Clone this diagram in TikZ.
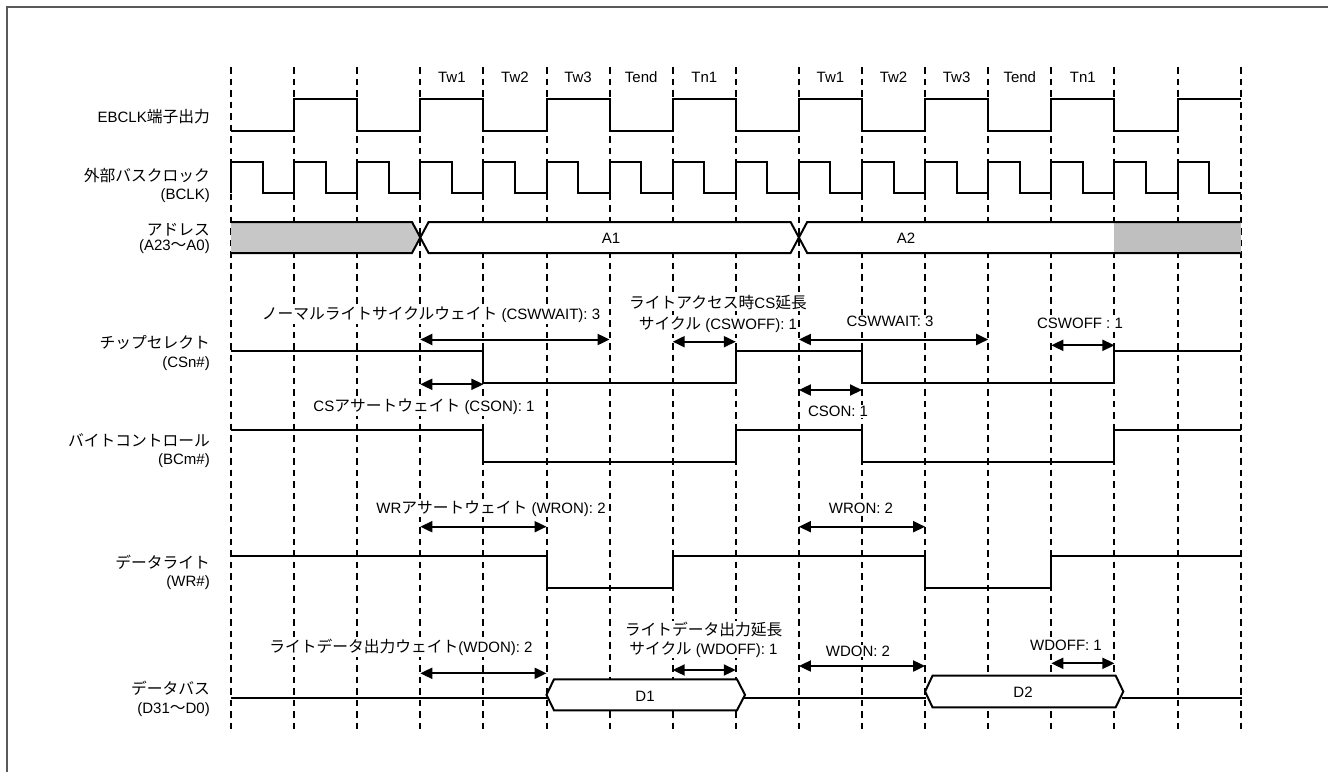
\documentclass[tikz,border=0pt]{standalone}
\usepackage{fontspec}
\setmainfont{Liberation Sans}
\newfontfamily\jp[Scale=1.05]{Noto Sans CJK JP}
\newcommand\J[1]{{\jp #1}}
\usetikzlibrary{arrows.meta}
\newcommand\darr[4]{\coordinate (#1a) at (#3,#2); \coordinate (#1b) at (#4,#2); \draw[dimarr] (#1a) -- (#1b);}
\begin{document}
\begin{tikzpicture}[x=1pt,y=-1pt,font=\fontsize{15}{17}\selectfont,
  gridln/.style={line width=2pt, dash pattern=on 6.5pt off 5pt},
  sig/.style={line width=2pt, line join=miter},
  dimarr/.style={line width=2pt, {Triangle[length=12pt,width=11pt]}-{Triangle[length=12pt,width=11pt]}},
  lbl/.style={fill=white, inner sep=1pt},
  sname/.style={anchor=east, inner sep=0pt},
  per/.style={inner sep=1pt},
  frame/.style={draw=black!65, line width=2pt}]
\useasboundingbox (0,0) rectangle (1330,772);
% frame
\draw[frame] (7,772) -- (7,7) -- (1328,7);
% grid
\foreach \k in {0,...,16} \draw[gridln] ({231+63.1*\k},67) -- ({231+63.1*\k},729);
% period labels
\foreach \k/\t [count=\i] in {3/Tw1,4/Tw2,5/Tw3,6/Tend,7/Tn1,9/Tw1,10/Tw2,11/Tw3,12/Tend,13/Tn1}
  \node[per] (p\i) at ({231+63.1*(\k+0.5)},77) {\t};
% signal names
\node[sname] (n1) at (210,117) {EBCLK\J{端子出力}};
\node[sname] (n2) at (210,175.7) {\J{外部バスクロック}};
\node[sname] (n2b) at (210,196) {(BCLK)};
\node[sname] (n3) at (210,230) {\J{アドレス}};
\node[sname] (n3b) at (210,247) {(A23\J{～}A0)};
\node[sname] (n4) at (210,342.7) {\J{チップセレクト}};
\node[sname] (n4b) at (210,364) {(CSn\#)};
\node[sname] (n5) at (210,440) {\J{バイトコントロール}};
\node[sname] (n5b) at (210,460.7) {(BCm\#)};
\node[sname] (n6) at (210,562.7) {\J{データライト}};
\node[sname] (n6b) at (210,582.7) {(WR\#)};
\node[sname] (n7) at (210,688) {\J{データバス}};
\node[sname] (n7b) at (210,710) {(D31\J{～}D0)};
% EBCLK
\draw[sig] (231,131) \foreach \k in {1,3,...,13} { -- ({231+63.1*\k},131) -- ({231+63.1*\k},99) -- ({231+63.1*(\k+1)},99) -- ({231+63.1*(\k+1)},131) } -- (1177.5,131) -- (1177.5,99) -- (1240.6,99);
% BCLK
\draw[sig] (231,193) \foreach \k in {0,...,15} { -- ({231+63.1*\k},162) -- ({231+63.1*\k+31.55},162) -- ({231+63.1*\k+31.55},193) -- ({231+63.1*(\k+1)},193) };
% Address
\fill[black!22] (231,222) -- (412,222) -- (420.3,237.5) -- (412,253) -- (231,253) -- cycle;
\draw[sig] (231,222) -- (412,222) -- (420.3,237.5) -- (412,253) -- (231,253);
\draw[sig,fill=white] (420.3,237.5) -- (428.6,222) -- (790.6,222) -- (798.9,237.5) -- (790.6,253) -- (428.6,253) -- cycle;
\fill[white] (798.9,237.5) -- (807.2,222) -- (1114.4,222) -- (1114.4,253) -- (807.2,253) -- cycle;
\fill[black!25] (1114.4,222) rectangle (1240.6,253);
\draw[sig] (798.9,237.5) -- (807.2,222) -- (1240.6,222);
\draw[sig] (798.9,237.5) -- (807.2,253) -- (1240.6,253);
\node (a1) at (611,238) {A1};
\node (a2) at (906,238) {A2};
% CSn#
\draw[sig] (231,351) -- (483.4,351) -- (483.4,383) -- (735.8,383) -- (735.8,351) -- (862,351) -- (862,383) -- (1114.4,383) -- (1114.4,351) -- (1240.6,351);
% BCm#
\draw[sig] (231,430) -- (483.4,430) -- (483.4,462) -- (735.8,462) -- (735.8,430) -- (862,430) -- (862,462) -- (1114.4,462) -- (1114.4,430) -- (1240.6,430);
% WR#
\draw[sig] (231,556) -- (546.5,556) -- (546.5,588) -- (672.7,588) -- (672.7,556) -- (925.1,556) -- (925.1,588) -- (1051.3,588) -- (1051.3,556) -- (1240.6,556);
% Data bus
\draw[sig] (231,698.3) -- (547.5,698.3);
\draw[sig] (744,698.3) -- (925.5,698.3);
\draw[sig] (1122,698.3) -- (1242,698.3);
\draw[sig,fill=white] (546.5,694.8) -- (554,679.3) -- (737,679.3) -- (745,694.8) -- (737,710.3) -- (554,710.3) -- cycle;
\draw[sig,fill=white] (925.1,691.5) -- (932.5,675.7) -- (1115.7,675.7) -- (1123.3,691.5) -- (1115.7,707.3) -- (932.5,707.3) -- cycle;
\node (d1) at (645,696) {D1};
\node (d2) at (1023,692) {D2};
% dimension arrows
\darr{cswwA}{339.5}{420.3}{609.6}
\darr{cswoffA}{341.7}{672.7}{735.8}
\darr{csonA}{384.3}{420.3}{483.4}
\darr{cswwB}{339.5}{798.9}{988.2}
\darr{cswoffB}{345.3}{1051.3}{1114.4}
\darr{csonB}{390}{798.9}{862}
\darr{wronA}{526.7}{420.3}{546.5}
\darr{wronB}{526.7}{798.9}{925.1}
\darr{wdonA}{673.3}{420.3}{546.5}
\darr{wdoffA}{670}{672.7}{735.8}
\darr{wdonB}{666}{798.9}{925.1}
\darr{wdoffB}{663.3}{1051.3}{1114.4}
% annotation labels
\node[lbl] (t1) at (431,315) {\J{ノーマルライトサイクルウェイト} (CSWWAIT): 3};
\node[lbl] (t2) at (718,303) {\J{ライトアクセス時}CS\J{延長}};
\node[lbl] (t2b) at (718,325) {\J{サイクル} (CSWOFF): 1};
\node[lbl] (t3) at (890,321.7) {CSWWAIT: 3};
\node[lbl] (t4) at (1080,323.3) {CSWOFF : 1};
\node[lbl] (t5) at (424,406.7) {CS\J{アサートウェイト} (CSON): 1};
\node[lbl] (t6) at (838,411.7) {CSON: 1};
\node[lbl] (t7) at (491,508.3) {WR\J{アサートウェイト} (WRON): 2};
\node[lbl] (t8) at (861,508) {WRON: 2};
\node[lbl] (t9) at (401,647.3) {\J{ライトデータ出力ウェイト}(WDON): 2};
\node[lbl] (t10) at (703.5,629.3) {\J{ライトデータ出力延長}};
\node[lbl] (t10b) at (703.5,649.3) {\J{サイクル} (WDOFF): 1};
\node[lbl] (t11) at (858,651) {WDON: 2};
\node[lbl] (t12) at (1066,645) {WDOFF: 1};
\end{tikzpicture}
\end{document}
